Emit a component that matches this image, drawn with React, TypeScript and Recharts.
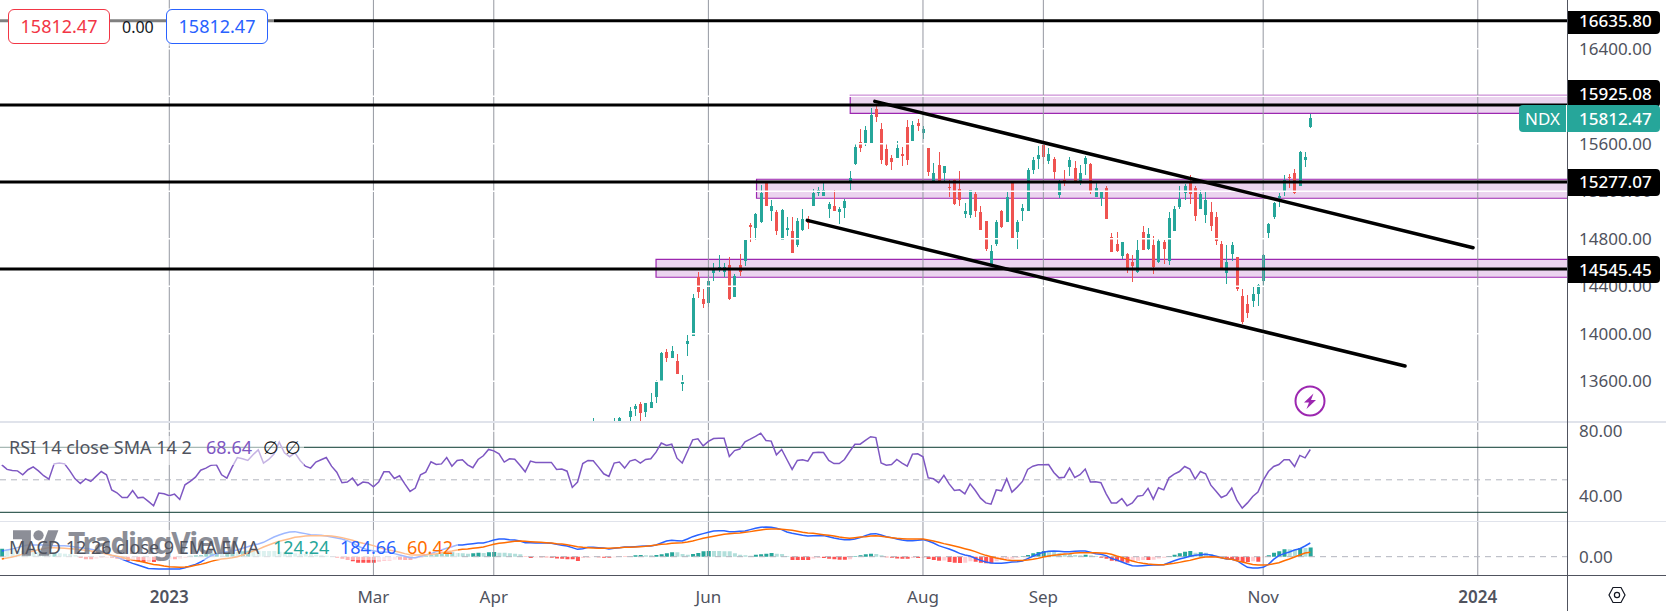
import React from "react";
import { ComposedChart, Bar, Line, Cell, XAxis, YAxis, ReferenceLine, ReferenceArea } from "recharts";

const FONT = '"Noto Sans", sans-serif';

const candleStart = 113;
const candleOpen = [13240,13220,13230,13225,13240,13246,13260,13299,13367,13409,13341,13375,13468,13602,13847,13796,13771,13577,13914,13981,14478,14293,14259,14515,14537,14523,14579,14310,14579,14613,14916,14891,14941,15270,15034,15025,14790,14874,14865,14748,14874,14966,15076,15185,15160,15051,15076,15025,15059,15286,15429,15615,15606,15606,15892,15724,15556,15480,
15480,15514,15741,15623,15775,15690,15564,15286,15421,15354,15239,15295,15219,15009,15003,15177,15025,14950,14588,14756,15034,14941,15270,14857,15034,15034,15379,15471,15589,15455,15471,15169,15292,15404,15396,15286,15429,15429,15152,15143,15227,14815,14756,14655,14672,14604,14520,14857,14714,14748,14604,14773,14613,14865,15068,15185,15278,15227,15051,15000,15025,14983,14756,14512,14672,14647,14318,14251,14276,14335,14444,14848,14983,15143,15194,15320,15353,15244,15463,15741];
const candleHigh = [13291,13250,13255,13250,13291,13297,13262,13384,13409,13426,13417,13501,13611,13847,13872,13897,13830,13653,13990,14335,14520,14377,14495,14596,14663,14596,14647,14503,14672,14790,14933,15017,15253,15270,15126,15042,15051,14983,14983,14975,15051,14992,15219,15236,15270,15110,15211,15068,15135,15370,15606,15724,15749,15901,15935,15775,15606,15505,
15623,15573,15800,15791,15808,15749,15564,15438,15530,15413,15295,15303,15370,15101,15211,15194,15076,14950,14748,14958,15042,15194,15270,14958,15093,15396,15488,15581,15623,15564,15488,15295,15379,15488,15455,15421,15497,15438,15270,15202,15244,14848,14857,14773,14680,14663,14790,14908,14891,14823,14806,14790,15025,15076,15244,15261,15337,15244,15211,15194,15109,15025,14781,14748,14773,14647,14377,14326,14394,14419,14672,14933,15109,15185,15337,15345,15387,15539,15530,15850];
const candleLow = [13230,13210,13215,13210,13230,13235,13230,13246,13308,13246,13299,13375,13417,13602,13762,13796,13661,13518,13813,13981,14301,14217,14225,14447,14520,14478,14285,14310,14487,14571,14773,14790,14933,15076,14950,14832,14790,14823,14680,14731,14865,14882,15076,15160,15160,14975,15034,14924,14975,15211,15421,15530,15581,15606,15783,15429,15413,15379,
15480,15413,15421,15623,15707,15640,15328,15286,15286,15286,15154,15084,15076,14975,14975,14987,14874,14697,14588,14739,14891,14941,14806,14714,14950,15034,15345,15387,15429,15429,15303,15143,15244,15328,15286,15253,15337,15177,15152,15076,14966,14689,14689,14630,14512,14436,14512,14705,14705,14503,14596,14587,14579,14865,15051,15126,15093,14950,15051,14933,14865,14748,14554,14419,14613,14360,14082,14133,14226,14234,14402,14798,14966,15067,15160,15227,15177,15244,15404,15732];
const candleClose = [13260,13235,13240,13240,13255,13288,13250,13350,13395,13333,13417,13426,13594,13838,13796,13855,13661,13602,13939,14301,14352,14251,14444,14551,14562,14562,14293,14487,14520,14790,14899,15009,15185,15076,15076,14865,15042,14891,14680,14950,14966,14933,15185,15211,15211,15093,15034,15051,15118,15312,15573,15564,15716,15842,15825,15463,15421,15446,
15564,15497,15463,15758,15749,15724,15362,15354,15286,15413,15236,15093,15126,15034,15211,15034,14874,14714,14697,14941,14899,15152,14806,14941,15059,15379,15463,15505,15488,15514,15362,15270,15290,15463,15286,15354,15480,15194,15227,15194,14966,14689,14697,14773,14537,14571,14705,14705,14840,14562,14781,14714,14975,15051,15135,15244,15177,14992,15177,15126,14908,14781,14554,14604,14748,14377,14099,14175,14335,14411,14663,14924,15101,15160,15295,15311,15185,15530,15488,15812.47];

const rsiValues = [59.2,56.4,55.7,55.5,53.1,56.2,58,55.5,52.5,50.4,59.8,60.3,59.8,55.5,50.6,47.7,50.6,49,52.1,55.1,53.1,43.8,42,39.1,39.1,43.4,38.9,39.3,36.7,34,41.8,41.4,40.2,41.2,37.9,46.9,49,51.6,55.9,57.2,59,59.2,53.1,51,57.8,63.7,62.9,61.9,65.4,68.5,60.3,62.5,65.8,73.2,66.6,64.2,66.6,61.9,58.4,57.2,60.9,62.3,63.7,58.4,54.7,48.2,48.6,51,46.5,48.6,48.2,45.7,48.6,54.9,54.9,50.8,52.5,47.5,42.8,44.9,53.1,54.7,61.1,59.4,59.8,63.7,58.4,61.9,62.3,59.2,57.4,62.5,64.8,68.7,67.8,66,60.9,62.9,62.7,59,54.9,61.5,60.7,60.7,60.7,60.7,56.4,56.6,55.3,45.3,48.6,60,61.9,61.7,57.8,53.7,52.1,60.3,60.9,57.2,61.5,62.5,60.3,62.5,62.9,67,72.6,71.1,71.9,63.3,60.3,67.4,74.6,75.2,70.9,73.6,75.4,75.6,75.6,64.4,68,68.9,73.4,75,76.7,78.7,74.2,73.8,65.4,68.7,62.5,56.4,61.9,62.3,61.5,66.6,67,66.8,61.9,60,60,62.5,67.4,71.9,71.9,74.2,76.5,76,60.3,59,59.4,62.5,60.3,58.4,65.8,66,64.2,51.2,50.6,48.2,52.7,47.5,43.4,43.8,41.4,47.5,43.4,38.7,35.8,35,43.8,43.2,50.6,42.4,45.5,49,56.4,58.4,59.2,59.2,59.4,54.5,51.2,51.6,57.2,51.4,53.1,56.6,48.6,48.8,48.2,41.4,35.8,35.8,38.5,34,35.8,39.9,40.4,44.7,38.1,45.1,43.8,51.2,53.5,55.1,58.2,56.6,50.4,55.1,53.7,46.7,43,39.1,40.6,44.9,37.3,32.6,35.8,39.7,42.4,49.6,55.1,58.2,59.4,62.3,62.3,58.2,65,63.5,68.64];

const macdValues = [77,90,104,122,144,158,158,158,158,153,149,149,149,140,131,122,113,99,86,68,41,18,-5,-36,-63,-90,-113,-135,-158,-162,-167,-167,-167,-167,-167,-149,-126,-104,-72,-27,14,36,54,68,77,90,113,135,158,171,194,230,266,293,315,333,338,324,311,297,293,288,279,266,252,239,216,185,144,113,90,81,68,63,59,41,23,5,-14,-14,5,23,41,68,90,113,135,158,158,167,176,185,185,203,225,239,239,230,225,212,189,189,185,185,185,180,167,153,144,122,99,108,126,126,122,117,104,113,122,131,131,135,140,144,144,158,185,212,221,216,212,239,270,293,311,329,347,351,351,338,338,342,347,365,383,396,401,396,383,365,333,315,302,288,279,284,284,284,270,252,239,230,230,239,257,284,306,311,293,270,257,239,225,216,216,221,230,212,185,149,126,104,77,45,23,9,-23,-50,-72,-86,-90,-90,-81,-72,-68,-59,-27,5,36,59,72,77,72,68,68,72,77,77,59,41,32,14,-23,-45,-72,-99,-122,-126,-122,-117,-113,-113,-108,-81,-54,-32,-14,5,18,27,32,23,5,-14,-32,-36,-54,-99,-144,-153,-153,-144,-104,-36,14,41,63,90,108,144,184.66];
const signalValues = [-32,-18,-5,14,32,59,77,95,108,122,122,117,113,108,104,95,86,77,68,54,36,18,5,-9,-27,-45,-59,-72,-90,-104,-113,-126,-135,-140,-144,-140,-131,-117,-104,-86,-63,-45,-32,-23,-14,0,23,50,77,99,131,158,185,207,225,243,261,270,279,284,284,284,284,279,270,257,239,221,198,180,167,149,126,108,90,77,59,41,27,23,23,27,32,41,54,68,77,90,99,104,113,122,131,149,167,180,189,198,207,212,207,203,198,194,189,185,176,171,162,149,135,126,122,117,113,113,113,117,122,126,126,131,135,140,149,158,167,171,180,185,189,198,212,230,248,261,275,288,302,311,315,320,329,338,351,360,369,374,374,369,365,356,342,329,320,315,306,297,288,279,266,257,248,257,266,270,279,284,275,266,257,248,243,239,239,239,239,225,212,194,176,162,144,126,108,90,68,41,18,0,-18,-32,-45,-50,-50,-50,-45,-36,-23,-5,9,18,27,36,41,50,54,54,54,54,50,45,32,9,-9,-36,-59,-77,-90,-99,-104,-108,-108,-99,-90,-77,-63,-50,-32,-14,-5,0,-5,-14,-27,-36,-54,-72,-90,-104,-113,-113,-108,-95,-81,-54,-32,-5,23,50,60.42];
const histValues = [108,99,90,81,81,81,68,63,54,45,54,45,41,36,23,-18,-36,-36,-27,-18,-14,-14,-27,-45,-59,-54,-63,-72,-68,-72,-63,-45,-36,-36,-27,-18,14,18,23,36,45,54,54,59,63,63,72,81,81,81,77,77,77,68,59,50,45,41,41,36,27,18,14,9,-14,-27,-45,-63,-81,-81,-81,-81,-68,-59,-54,-41,-41,-45,-45,-27,-18,14,23,36,45,54,59,50,45,41,45,54,50,59,63,54,54,45,41,32,-5,-18,-9,-9,-9,-14,-23,-27,-36,-36,-59,-18,-14,-5,-9,-14,-14,-9,-5,-5,-5,18,23,18,18,23,32,45,59,59,36,27,36,50,72,77,77,77,72,72,45,27,18,14,27,32,41,50,41,36,9,-45,-45,-45,-45,-23,-18,-18,-27,-36,-41,-41,-36,5,18,32,41,36,18,-9,-14,-23,-27,-27,-18,-18,-14,-32,-45,-54,-50,-72,-81,-86,-81,-63,-68,-81,-90,-90,-63,-45,-36,-27,-14,5,23,45,63,77,68,63,50,36,36,23,18,27,18,9,-14,-27,-54,-63,-68,-81,-68,-54,-45,-45,-41,-23,-14,9,27,45,68,77,54,59,54,36,14,-9,-23,-32,-45,-72,-72,-63,-68,-9,18,54,72,99,99,95,117,117,124.24];

const monthTicks = [32, 71, 94, 135, 176, 199, 241, 282];
const monthLabels = ["2023", "Mar", "Apr", "Jun", "Aug", "Sep", "Nov", "2024"];
const priceTicks = [16400, 16000, 15600, 15200, 14800, 14400, 14000, 13600];
const supportLevels = [16635.8, 15925.08, 15277.07, 14545.45];
const zoneStart = [162.1, 144.2, 125];
const zoneTop = [16008, 15301, 14627];
const zoneBottom = [15856, 15141, 14476];
const upperTrend = [{ x: 166.8, y: 15957 }, { x: 281.1, y: 14725 }];
const lowerTrend = [{ x: 153.9, y: 14955 }, { x: 268.1, y: 13729 }];
const rsiTicks = [80, 40];
const rsiBands = [70, 30];

const X_DOMAIN: [number, number] = [-0.344, 299.24];
const WIDTH = 1666;
const AXIS_W = 98;
const UP = "#26a69a";
const DOWN = "#ef5350";
const GRID = "#9598a1";
const TEXT = "#50535e";

const panelRows = rsiValues.map((rsi, k) => ({ k, rsi, macd: macdValues[k], signal: signalValues[k], hist: histValues[k] }));
const candleRows = candleOpen.map((o, i) => ({
  k: candleStart + i, o, c: candleClose[i], h: candleHigh[i], l: candleLow[i], range: [candleLow[i], candleHigh[i]],
}));
const rows = panelRows.map((r) => ({ ...r, ...(candleRows.find((c) => c.k === r.k) || {}) }));

const histColor = (k: number) => {
  const cur = histValues[k];
  const prev = k > 0 ? histValues[k - 1] : cur - 1;
  if (cur >= 0) return prev < cur ? "#26a69a" : "#b2dfdb";
  return prev < cur ? "#ffcdd2" : "#ff5252";
};

const Candle = (props: any) => {
  const { x, y, width, height, payload } = props;
  if (!payload || payload.h == null) return null;
  const top = Math.min(y, y + height);
  const span = Math.abs(height);
  const per = span / (payload.h - payload.l || 1);
  const upper = Math.max(payload.o, payload.c);
  const lower = Math.min(payload.o, payload.c);
  const bodyY = top + (payload.h - upper) * per;
  const bodyH = Math.max(1, (upper - lower) * per);
  const cx = Math.floor(x + width / 2) + 0.5;
  const fill = payload.c >= payload.o ? UP : DOWN;
  return (
    <g shapeRendering="crispEdges">
      <rect x={cx - 0.5} y={top} width={1} height={span} fill={fill} />
      <rect x={cx - 1.5} y={bodyY} width={3} height={bodyH} fill={fill} />
    </g>
  );
};

const XTick = (props: any) => {
  const i = monthTicks.indexOf(props.payload.value);
  const isYear = /^\d/.test(monthLabels[i]);
  return (
    <text x={props.x} y={props.y + 19} textAnchor="middle" fontFamily={FONT} fontSize={17} fontWeight={isYear ? 600 : 400} fill={TEXT}>
      {monthLabels[i]}
    </text>
  );
};

const verticals = () =>
  monthTicks.map((t) => <ReferenceLine key={"v" + t} x={t} stroke={GRID} strokeWidth={1} ifOverflow="hidden" />);
const tickStyle = { fontSize: 17, fill: TEXT, fontFamily: FONT };

const Tag = ({ top, height, text, center }: { top: number; height: number; text: string; center: number }) => (
  <div style={{ position: "absolute", left: 1568, top, width: 92, height, background: "#000", borderRadius: "0 4px 4px 0" }}>
    <span style={{ position: "absolute", left: 11, top: center - top - 13, lineHeight: "26px", fontFamily: FONT, fontSize: 17, fontWeight: 500, color: "#fff" }}>{text}</span>
  </div>
);

const Txt = ({ left, cy, color, children, size = 18 }: any) => (
  <span style={{ position: "absolute", left, top: cy - 13, lineHeight: "26px", fontFamily: FONT, fontSize: size, color, whiteSpace: "nowrap" }}>{children}</span>
);

const Box = ({ left, color, text }: any) => (
  <div style={{ position: "absolute", left, top: 9, width: 102, height: 35, boxSizing: "border-box", border: `1px solid ${color}`, borderRadius: 6, background: "#fff", color, fontFamily: FONT, fontSize: 18, lineHeight: "33px", textAlign: "center" }}>{text}</div>
);

export default function App() {
  return (
    <div style={{ position: "absolute", left: 0, top: 0, width: WIDTH, height: 611, background: "#fff", overflow: "hidden" }}>
      <div style={{ position: "absolute", left: 0, top: 0 }}>
        <ComposedChart width={WIDTH} height={421} data={rows} margin={{ top: 0, right: 0, bottom: 0, left: 0 }}>
          <XAxis dataKey="k" type="number" domain={X_DOMAIN} allowDataOverflow hide />
          <YAxis orientation="right" width={AXIS_W} type="number" domain={[13266, 16810]} allowDataOverflow ticks={priceTicks} interval={0} tickLine={false} tickSize={0} tickMargin={11} axisLine={false} tick={tickStyle} tickFormatter={(v: number) => v.toFixed(2)} />
          {verticals()}
          {priceTicks.map((t) => <ReferenceLine key={"w" + t} y={t} stroke="#fff" strokeWidth={1.5} />)}
          {supportLevels.map((v) => <ReferenceLine key={"s" + v} y={v} stroke="#000" strokeWidth={3} />)}
          <Bar dataKey="range" barSize={4} shape={<Candle />} isAnimationActive={false} />
          {zoneStart.map((x, i) => (
            <ReferenceArea key={"z" + i} x1={x} x2={X_DOMAIN[1]} y1={zoneBottom[i]} y2={zoneTop[i]} fill="#9c27b0" fillOpacity={0.2} stroke="#9c27b0" strokeWidth={1.2} strokeOpacity={1} ifOverflow="hidden" />
          ))}
          <ReferenceLine segment={upperTrend} stroke="#000" strokeWidth={3.5} strokeLinecap="round" ifOverflow="visible" />
          <ReferenceLine segment={lowerTrend} stroke="#000" strokeWidth={3.5} strokeLinecap="round" ifOverflow="visible" />
        </ComposedChart>
      </div>

      <div style={{ position: "absolute", left: 0, top: 423, background: "#fff" }}>
        <ComposedChart width={WIDTH} height={98} data={rows} margin={{ top: 0, right: 0, bottom: 0, left: 0 }}>
          <XAxis dataKey="k" type="number" domain={X_DOMAIN} allowDataOverflow hide />
          <YAxis orientation="right" width={AXIS_W} type="number" domain={[24.65, 84.95]} allowDataOverflow ticks={rsiTicks} interval={0} tickLine={false} tickSize={0} tickMargin={11} axisLine={false} tick={tickStyle} tickFormatter={(v: number) => v.toFixed(2)} />
          {verticals()}
          {rsiTicks.map((t) => <ReferenceLine key={"w" + t} y={t} stroke="#fff" strokeWidth={1.5} />)}
          {rsiBands.map((t) => <ReferenceLine key={"b" + t} y={t} stroke="#0a3a30" strokeWidth={1} />)}
          <ReferenceLine y={50} stroke="#b2b5be" strokeWidth={1} strokeDasharray="6 5" />
          <Line dataKey="rsi" stroke="#7e57c2" strokeWidth={1.5} dot={false} activeDot={false} isAnimationActive={false} />
        </ComposedChart>
      </div>

      <div style={{ position: "absolute", left: 0, top: 522, background: "#fff" }}>
        <ComposedChart width={WIDTH} height={89} data={rows} margin={{ top: 0, right: 0, bottom: 0, left: 0 }}>
          <XAxis dataKey="k" type="number" domain={X_DOMAIN} allowDataOverflow height={35.5} ticks={monthTicks} interval={0} tickLine={false} axisLine={false} tick={<XTick />} />
          <YAxis orientation="right" width={AXIS_W} type="number" domain={[-254, 468]} allowDataOverflow ticks={[0]} interval={0} tickLine={false} tickSize={0} tickMargin={11} axisLine={false} tick={tickStyle} tickFormatter={(v: number) => v.toFixed(2)} />
          {verticals()}
          <ReferenceLine y={0} stroke="#b2b5be" strokeWidth={1} strokeDasharray="6 5" />
          <Bar dataKey="hist" barSize={4} isAnimationActive={false}>
            {rows.map((r) => <Cell key={r.k} fill={histColor(r.k)} />)}
          </Bar>
          <Line dataKey="macd" stroke="#2962ff" strokeWidth={1.5} dot={false} activeDot={false} isAnimationActive={false} />
          <Line dataKey="signal" stroke="#ff6d00" strokeWidth={1.5} dot={false} activeDot={false} isAnimationActive={false} />
        </ComposedChart>
      </div>

      {/* pane frames */}
      <div style={{ position: "absolute", left: 0, top: 421, width: WIDTH, height: 2, background: "#e0e3eb" }} />
      <div style={{ position: "absolute", left: 0, top: 521, width: WIDTH, height: 1, background: "#e0e3eb" }} />
      <div style={{ position: "absolute", left: 0, top: 575, width: WIDTH, height: 1, background: TEXT }} />
      <div style={{ position: "absolute", left: 1567, top: 0, width: 1, height: 611, background: TEXT }} />

      {/* scale tags */}
      <Tag top={11} height={23} center={20.7} text="16635.80" />
      <Tag top={80} height={27} center={94} text="15925.08" />
      <Tag top={169} height={27} center={182.3} text="15277.07" />
      <Tag top={256} height={27} center={270} text="14545.45" />
      <div style={{ position: "absolute", left: 1519, top: 105, width: 141, height: 27, background: UP, borderRadius: 4 }}>
        <div style={{ position: "absolute", left: 47, top: 0, width: 1, height: 27, background: "#fff" }} />
        <span style={{ position: "absolute", left: 0, width: 47, textAlign: "center", top: 0, lineHeight: "27px", fontFamily: FONT, fontSize: 17, color: "#fff" }}>NDX</span>
        <span style={{ position: "absolute", left: 60, top: 0, lineHeight: "27px", fontFamily: FONT, fontSize: 17, fontWeight: 500, color: "#fff" }}>15812.47</span>
      </div>

      {/* top-left trading buttons */}
      <div style={{ position: "absolute", left: 0, top: 8, width: 274, height: 38, background: "rgba(255,255,255,0.5)" }} />
      <Box left={8} color="#f23645" text="15812.47" />
      <Txt left={122} cy={27} color="#131722" size={16}>0.00</Txt>
      <Box left={166} color="#2962ff" text="15812.47" />

      {/* pane legends */}
      <div style={{ position: "absolute", left: 0, top: 436, width: 304, height: 29, background: "rgba(255,255,255,0.55)" }} />
      <Txt left={9} cy={447} color={TEXT}>RSI 14 close SMA 14 2</Txt>
      <Txt left={206} cy={447} color="#7e57c2">68.64</Txt>
      <Txt left={263} cy={447} color="#131722">∅</Txt>
      <Txt left={285} cy={447} color="#131722">∅</Txt>

      <div style={{ position: "absolute", left: 4, top: 530, width: 454, height: 30, background: "rgba(255,255,255,0.55)" }} />
      <svg style={{ position: "absolute", left: 13, top: 530, opacity: 0.85 }} width={46} height={26} viewBox="0 0 36 20">
        <path fill="#787b86" d="M14 20H7V7H0V0h14v20zM28 20h-8l7.5-20h8L28 20z" />
        <circle cx="20" cy="4" r="4" fill="#787b86" />
      </svg>
      <span style={{ position: "absolute", left: 68, top: 522, lineHeight: "42px", fontFamily: FONT, fontSize: 30, fontWeight: 700, letterSpacing: "-1.4px", color: "#787b86", opacity: 0.85, whiteSpace: "nowrap" }}>TradingView</span>
      <Txt left={9} cy={547} color={TEXT}>MACD 12 26 close 9 EMA EMA</Txt>
      <Txt left={273} cy={547} color={UP}>124.24</Txt>
      <Txt left={340} cy={547} color="#2962ff">184.66</Txt>
      <Txt left={407} cy={547} color="#ff6d00">60.42</Txt>

      {/* earnings badge */}
      <svg style={{ position: "absolute", left: 1294, top: 385 }} width={32} height={32} viewBox="0 0 32 32">
        <circle cx="16" cy="16" r="14.5" fill="#fff" stroke="#9c27b0" strokeWidth={2} />
        <path fill="#9c27b0" d="M19.5 8.5 10 17.5h5l-2.5 6.5 9.5-9h-5z" />
      </svg>

      {/* settings gear */}
      <svg style={{ position: "absolute", left: 1607, top: 585 }} width={20} height={20} viewBox="0 0 20 20" fill="none" stroke="#131722" strokeWidth={1.2}>
        <path d="M6 2.5h8L18 10l-4 7.5H6L2 10z" />
        <circle cx="10" cy="10" r="2.6" />
      </svg>
    </div>
  );
}
